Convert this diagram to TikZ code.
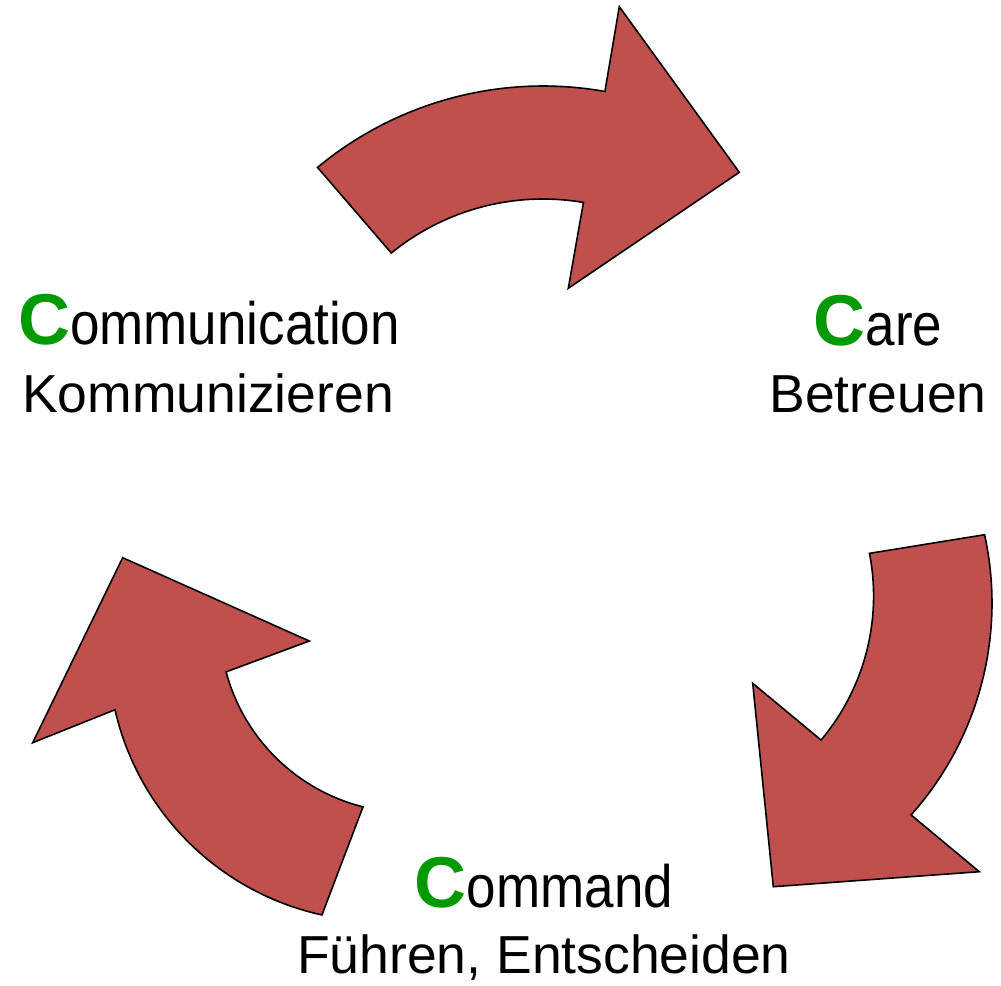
\documentclass[tikz,border=0pt]{standalone}
\usepackage{fontspec}
\usepackage{graphicx}
\setmainfont{Liberation Sans}
\definecolor{arrowred}{RGB}{192,80,77}
\definecolor{cgreen}{RGB}{0,153,0}
\newcommand{\bigC}{{\color{cgreen}\fontsize{72}{80}\selectfont\bfseries C}}
\newcommand{\firstline}[1]{\bigC\scalebox{1}[1.13]{\fontsize{53}{60}\selectfont #1}}
\begin{document}
\begin{tikzpicture}[x=1pt,y=-1pt,
  arrowshape/.style={fill=arrowred,draw=black,line width=1.6pt,line join=miter},
  lbl/.style={anchor=base,inner sep=0pt,font=\fontsize{53.5}{60}\selectfont}]
\useasboundingbox (0,0) rectangle (1001,985);
% top arrow
\filldraw[arrowshape]
  plot[domain=230.3:280.1,samples=50] ({543+353*cos(\x)},{439+353*sin(\x)})
  -- (619.3,6.7) -- (739.3,172.3) -- (568.3,288.3)
  -- plot[domain=279.7:230.8,samples=50] ({543+240*cos(\x)},{439+240*sin(\x)})
  -- cycle;
% right arrow
\filldraw[arrowshape]
  plot[domain=-12.4:41.8,samples=50] ({674+318*cos(\x)},{603+318*sin(\x)})
  -- (979.3,871.7) -- (773.3,886.7) -- (752.7,683.3)
  -- plot[domain=40.1:-11.0,samples=50] ({650+223.6*cos(\x)},{596+223.6*sin(\x)})
  -- cycle;
% left arrow
\filldraw[arrowshape]
  plot[domain=102.4:167.1,samples=50] ({380.4+272.3*cos(\x)},{649+272.3*sin(\x)})
  -- (32.7,742.7) -- (122.7,557.7) -- (309.3,641)
  -- plot[domain=165:104.2,samples=50] ({409.6+190*cos(\x)},{622.7+190*sin(\x)})
  -- cycle;
% labels
\node[lbl] (comm1) at (209,344) {\firstline{ommunication}};
\node[lbl] (comm2) at (208,412) {Kommunizieren};
\node[lbl] (care1) at (878,345) {\firstline{are}};
\node[lbl] (care2) at (878,412) {Betreuen};
\node[lbl] (cmd1) at (544,907) {\firstline{ommand}};
\node[lbl] (cmd2) at (544,973) {Führen, Entscheiden};
\end{tikzpicture}
\end{document}
